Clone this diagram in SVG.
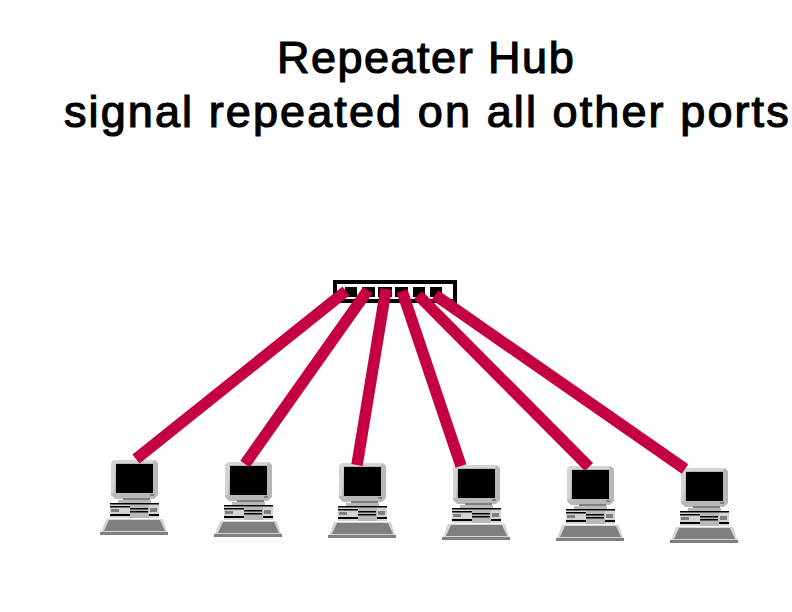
<svg xmlns="http://www.w3.org/2000/svg" width="792" height="612" viewBox="0 0 792 612">
<style>
.t{font-family:"Liberation Sans",Arial,sans-serif;font-size:45px;fill:#000;stroke:#000;stroke-width:1.200}
.c{stroke:#c40040;stroke-width:11.500;fill:none}
.g1{fill:#b8b8b8}.g2{fill:#7f7f7f}.g3{fill:#d4d4d4}.k{fill:#000}
</style>
<defs>
<g id="pc">
<path class="g1" d="M114 460H155L158 463V495L154 499H115L111 495V463Z"/>
<path class="g3" d="M114 460H155L153 463H116L114 493H111V463Z"/>
<rect class="k" x="116" y="464" width="37" height="29"/>
<rect class="g2" x="150" y="494" width="4" height="2"/>
<rect class="g2" x="123" y="498" width="27" height="2"/>
<rect class="g1" x="118" y="500" width="33" height="3"/>
<rect class="g3" x="110" y="503" width="49" height="15"/>
<rect class="k" x="110" y="503" width="49" height="1.500"/>
<rect class="k" x="110" y="506" width="20" height="1.500"/>
<rect class="k" x="110" y="514" width="49" height="2"/>
<rect class="g2" x="111" y="509" width="8" height="3"/>
<rect class="g1" x="130" y="505" width="19" height="13"/>
<rect class="k" x="130" y="508" width="18" height="1.500"/>
<rect class="k" x="130" y="511" width="18" height="1.500"/>
<rect class="g2" x="150" y="508" width="7" height="4"/>
<path class="g3" d="M106 519H163L168 535H100Z"/>
<path class="g2" d="M109 520H160L165 531H104Z"/>
<rect class="g2" x="100" y="532" width="68" height="3"/>
</g>
</defs>
<g id="title">
<text class="t" x="277" y="73" letter-spacing="1.500">Repeater Hub</text>
<text class="t" x="64" y="127" letter-spacing="2.100">signal repeated on all other ports</text>
</g>
<g id="hub">
<rect x="335" y="282" width="120" height="19" fill="#fff" stroke="#000" stroke-width="4"/>
<g class="k">
<rect x="345" y="287" width="12" height="10"/><rect x="362" y="287" width="13" height="10"/>
<rect x="378" y="287" width="14" height="10"/><rect x="395" y="287" width="13" height="10"/>
<rect x="413" y="287" width="12" height="10"/><rect x="430" y="287" width="12" height="10"/>
</g>
</g>
<g id="computer1"><use href="#pc"/></g>
<g id="computer2"><use href="#pc" x="114" y="2"/></g>
<g id="computer3"><use href="#pc" x="228" y="3"/></g>
<g id="computer4"><use href="#pc" x="342" y="5"/></g>
<g id="computer5"><use href="#pc" x="456" y="6"/></g>
<g id="computer6"><use href="#pc" x="570" y="8"/></g>
<g id="connectors">
<line class="c" x1="136" y1="459" x2="346" y2="291"/>
<line class="c" x1="245" y1="464" x2="368" y2="290"/>
<line class="c" x1="357" y1="465" x2="386" y2="289"/>
<line class="c" x1="461" y1="466" x2="402" y2="291"/>
<line class="c" x1="589" y1="467" x2="418" y2="295"/>
<line class="c" x1="685" y1="469" x2="435" y2="295"/>
</g>
</svg>
